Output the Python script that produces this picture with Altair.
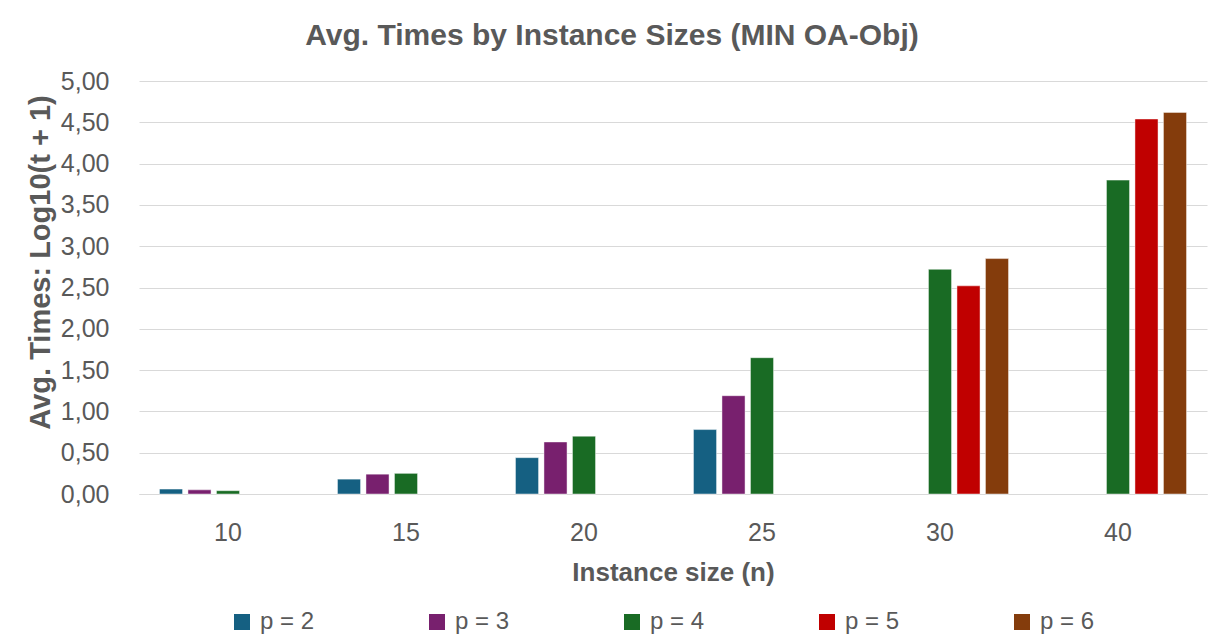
import altair as alt
import pandas as pd

sizes = ["10", "15", "20", "25", "30", "40"]
series = ["p = 2", "p = 3", "p = 4", "p = 5", "p = 6"]
colors = ["#156082", "#78206E", "#196B24", "#C00000", "#843C0C"]

p2 = [0.06, 0.18, 0.44, 0.78, None, None]
p3 = [0.05, 0.24, 0.63, 1.19, None, None]
p4 = [0.04, 0.25, 0.70, 1.65, 2.72, 3.80]
p5 = [None, None, None, None, 2.52, 4.54]
p6 = [None, None, None, None, 2.85, 4.62]

rows = []
for name, vals in zip(series, [p2, p3, p4, p5, p6]):
    for s, v in zip(sizes, vals):
        if v is not None:
            rows.append({"size": s, "series": name, "value": v})
df = pd.DataFrame(rows)

FONT = "Liberation Sans"
GRAY = "#595959"

chart = alt.Chart(df).mark_bar(stroke="white", strokeOpacity=0.45, strokeWidth=1).encode(
    x=alt.X("size:N", sort=sizes,
            scale=alt.Scale(paddingInner=0.23, paddingOuter=0.115),
            axis=alt.Axis(title="Instance size (n)", labelAngle=0, labelFontSize=25,
                          labelColor=GRAY, labelFont=FONT, labelPadding=26, ticks=False,
                          grid=False, domainColor="#D9D9D9", titleFont=FONT, titleFontSize=26,
                          titleColor=GRAY, titleFontWeight="bold", titlePadding=14)),
    xOffset=alt.XOffset("series:N", sort=series,
                        scale=alt.Scale(domain=series, paddingInner=0.19, paddingOuter=0)),
    y=alt.Y("value:Q",
            scale=alt.Scale(domain=[0, 5]),
            axis=alt.Axis(title="Avg. Times: Log10(t + 1)", values=[0, 0.5, 1, 1.5, 2, 2.5, 3, 3.5, 4, 4.5, 5],
                          labelExpr="replace(format(datum.value, '.2f'), '.', ',')",
                          labelFontSize=25, labelColor=GRAY, labelFont=FONT, labelPadding=30,
                          ticks=False, domain=False, gridColor="#D9D9D9", gridWidth=1,
                          titleFont=FONT, titleFontSize=29, titleColor=GRAY, titleFontWeight="bold",
                          titleX=-99, titleY=181, titleAngle=-90, titleBaseline="middle")),
    color=alt.Color("series:N", sort=series,
                    scale=alt.Scale(domain=series, range=colors),
                    legend=alt.Legend(title=None, orient="none", legendX=91, legendY=529,
                                      direction="horizontal", symbolType="square", symbolSize=256,
                                      symbolStrokeWidth=0, labelFontSize=24, labelFont=FONT,
                                      labelColor=GRAY, columnPadding=110, labelOffset=6)),
).properties(
    width=1068,
    height=413,
    title=alt.TitleParams("Avg. Times by Instance Sizes (MIN OA-Obj)", font=FONT, fontSize=30,
                          fontWeight="bold", color=GRAY, anchor="middle", dx=-61, offset=18),
    autosize=alt.AutoSizeParams(type="none"),
    padding={"left": 139, "top": 81, "right": 9, "bottom": 147},
).configure(background="white").configure_view(strokeWidth=0, stroke="transparent")

chart.save("out.html", embed_options={"renderer": "svg", "actions": False})
